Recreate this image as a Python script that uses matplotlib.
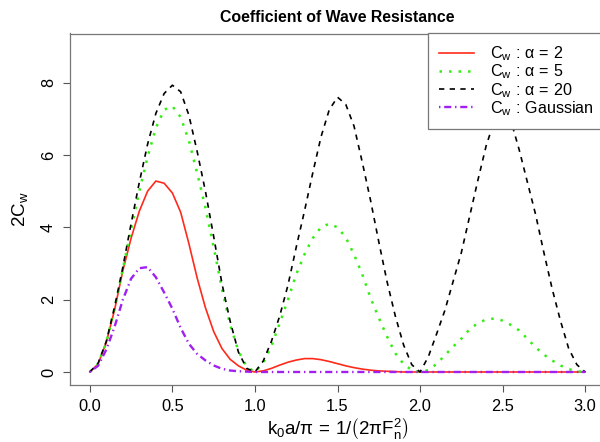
import matplotlib

matplotlib.use("Agg")
import matplotlib.pyplot as plt

plt.rcParams["font.family"] = ["Liberation Sans", "DejaVu Sans"]
plt.rcParams["mathtext.fontset"] = "custom"
plt.rcParams["mathtext.rm"] = "Liberation Sans"
plt.rcParams["mathtext.it"] = "Liberation Sans:italic"
plt.rcParams["mathtext.bf"] = "Liberation Sans:bold"

# k0*a/pi grid (read at 0.05 steps)
x = [0.00, 0.05, 0.10, 0.15, 0.20, 0.25, 0.30, 0.35, 0.40, 0.45,
     0.50, 0.55, 0.60, 0.65, 0.70, 0.75, 0.80, 0.85, 0.90, 0.95,
     1.00, 1.05, 1.10, 1.15, 1.20, 1.25, 1.30, 1.35, 1.40, 1.45,
     1.50, 1.55, 1.60, 1.65, 1.70, 1.75, 1.80, 1.85, 1.90, 1.95,
     2.00, 2.05, 2.10, 2.15, 2.20, 2.25, 2.30, 2.35, 2.40, 2.45,
     2.50, 2.55, 2.60, 2.65, 2.70, 2.75, 2.80, 2.85, 2.90, 2.95,
     3.00]

# 2*Cw, alpha = 2
cw_a2 = [0, 0.22, 0.82, 1.72, 2.80, 3.70, 4.45, 5.00, 5.28, 5.22,
         4.95, 4.42, 3.55, 2.60, 1.78, 1.12, 0.65, 0.35, 0.17, 0.05,
         0, 0.03, 0.10, 0.19, 0.27, 0.33, 0.37, 0.37, 0.34, 0.29,
         0.23, 0.17, 0.12, 0.08, 0.05, 0.03, 0.02, 0.01, 0, 0,
         0, 0, 0, 0, 0, 0, 0, 0, 0, 0,
         0, 0, 0, 0, 0, 0, 0, 0, 0, 0,
         0]

# 2*Cw, alpha = 5
cw_a5 = [0, 0.22, 0.82, 1.75, 2.85, 3.95, 5.00, 5.95, 6.75, 7.25,
         7.35, 7.05, 6.40, 5.50, 4.55, 3.45, 2.30, 1.30, 0.58, 0.15,
         0, 0.25, 0.72, 1.35, 2.00, 2.70, 3.25, 3.70, 4.00, 4.10,
         4.00, 3.72, 3.25, 2.70, 2.05, 1.50, 0.98, 0.52, 0.22, 0.05,
         0, 0.05, 0.22, 0.46, 0.70, 0.92, 1.18, 1.35, 1.45, 1.48,
         1.42, 1.30, 1.15, 0.92, 0.68, 0.48, 0.32, 0.18, 0.08, 0.02,
         0]

# 2*Cw, alpha = 20
cw_a20 = [0, 0.24, 0.85, 1.80, 2.90, 4.10, 5.25, 6.30, 7.15, 7.70,
          7.93, 7.75, 7.10, 6.10, 5.00, 3.75, 2.45, 1.40, 0.55, 0.10,
          0, 0.30, 0.85, 1.55, 2.40, 3.45, 4.45, 5.50, 6.50, 7.25,
          7.60, 7.40, 6.80, 5.80, 4.75, 3.60, 2.50, 1.55, 0.75, 0.20,
          0, 0.42, 1.05, 1.70, 2.50, 3.30, 4.30, 5.30, 6.25, 6.95,
          7.25, 6.95, 6.15, 5.25, 4.35, 3.30, 2.30, 1.42, 0.65, 0.20,
          0]

# 2*Cw, Gaussian pressure distribution
cw_gauss = [0, 0.17, 0.62, 1.25, 2.00, 2.58, 2.87, 2.90, 2.62, 2.20,
            1.75, 1.22, 0.78, 0.50, 0.32, 0.18, 0.09, 0.04, 0.02, 0.01,
            0, 0, 0, 0, 0, 0, 0, 0, 0, 0,
            0, 0, 0, 0, 0, 0, 0, 0, 0, 0,
            0, 0, 0, 0, 0, 0, 0, 0, 0, 0,
            0, 0, 0, 0, 0, 0, 0, 0, 0, 0,
            0]

labels = [r"$\mathrm{C_w\,:\,\alpha\,=\,2}$",
          r"$\mathrm{C_w\,:\,\alpha\,=\,5}$",
          r"$\mathrm{C_w\,:\,\alpha\,=\,20}$",
          r"$\mathrm{C_w\,:\,Gaussian}$"]
x_ticks = [0.0, 0.5, 1.0, 1.5, 2.0, 2.5, 3.0]
y_ticks = [0, 2, 4, 6, 8]

fig = plt.figure(figsize=(6.0, 4.42), dpi=100)
# plot region runs slightly past the right edge (source image was cropped)
ax = fig.add_axes([70 / 600, 1 - 385 / 442, 535 / 600, 351.5 / 442])

ax.plot(x, cw_a2, color="#ff2a1a", lw=1.2, label=labels[0])
ax.plot(x, cw_a5, color="#33ee11", lw=1.8, linestyle=(0, (1, 2.8)), label=labels[1])
ax.plot(x, cw_a20, color="black", lw=1.2, linestyle=(0, (3.2, 3.2)), label=labels[2])
ax.plot(x, cw_gauss, color="#a020f0", lw=1.7, linestyle=(0, (0.6, 1.6, 3.0, 1.6)),
        label=labels[3])

ax.set_xlim(-0.12, 3.12)
ax.set_ylim(-0.36, 9.36)
ax.set_xticks(x_ticks)
ax.set_xticklabels([f"{t:.1f}" for t in x_ticks])
ax.set_yticks(y_ticks)
ax.set_yticklabels([str(t) for t in y_ticks], rotation=90, va="center")
ax.tick_params(direction="out", length=5, width=0.8, color="#555555",
               labelsize=11.8, pad=5)
for s in ax.spines.values():
    s.set_color("#777777")
    s.set_linewidth(0.9)

ax.set_title("Coefficient of Wave Resistance", fontsize=11.4, fontweight="bold", pad=8)
ax.set_ylabel(r"$\mathrm{2C_w}$", fontsize=13.5, labelpad=8)
ax.set_xlabel(r"$\mathrm{k_0a/\pi\,=\,1/\left(2\pi F_n^2\right)}$", fontsize=13.5, labelpad=2.5)

leg = ax.legend(loc="upper right", bbox_to_anchor=(1.0, 1.0), borderaxespad=0,
                fontsize=11.6, frameon=True, fancybox=False, framealpha=1,
                edgecolor="#777777", handlelength=2.2, handletextpad=1.0,
                labelspacing=-0.03, borderpad=0.68)
leg.get_frame().set_linewidth(0.9)

fig.savefig("out.png", dpi=100)
